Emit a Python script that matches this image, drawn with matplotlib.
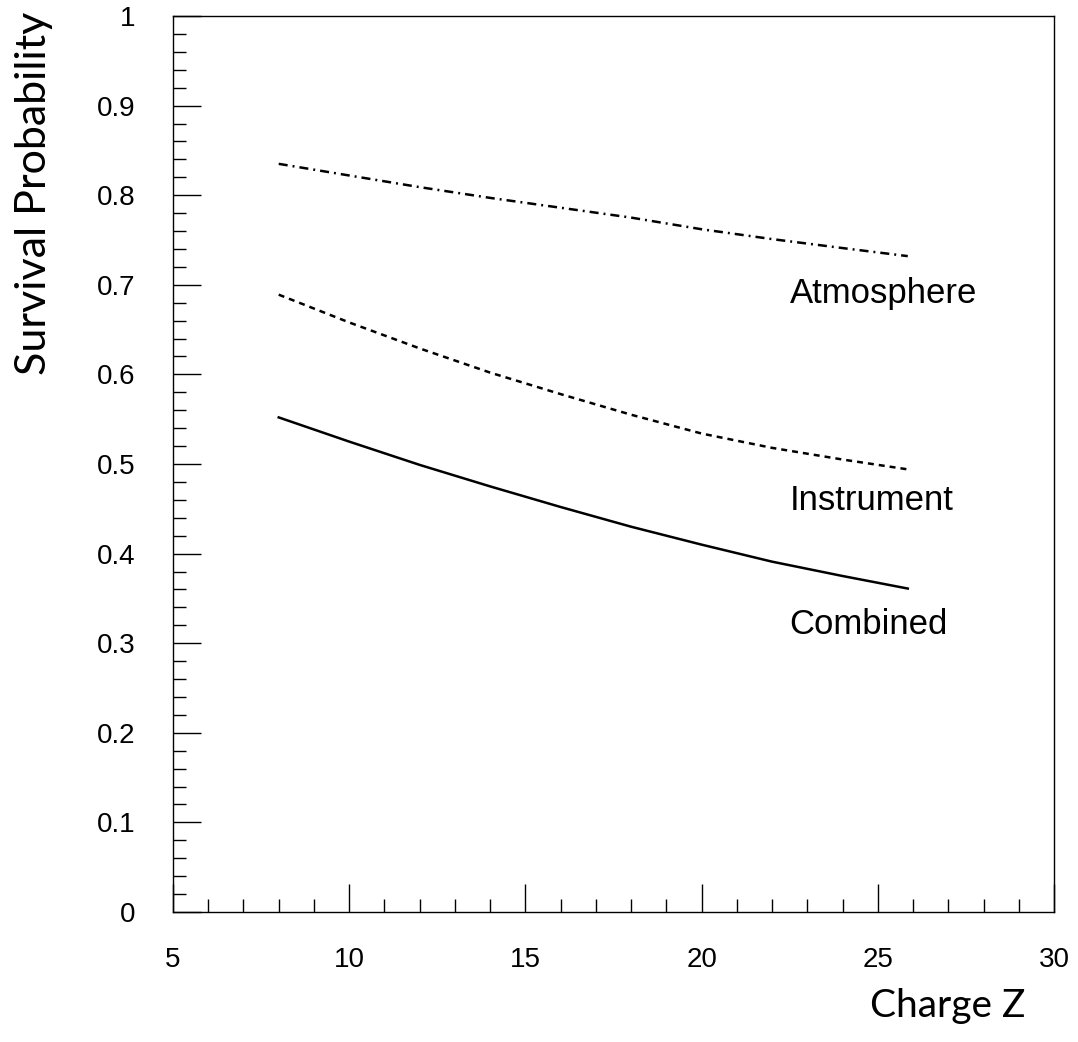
"""Survival probability vs charge Z for atmosphere, instrument and combined."""
import matplotlib
matplotlib.use("Agg")
import matplotlib.pyplot as plt
from matplotlib.ticker import MultipleLocator

# values
charge_z = [8, 10, 12, 14, 16, 18, 20, 22, 24, 25.85]
atmosphere = [0.835, 0.822, 0.809, 0.797, 0.786, 0.775, 0.762, 0.751, 0.741, 0.732]
instrument = [0.689, 0.658, 0.629, 0.602, 0.578, 0.555, 0.534, 0.518, 0.505, 0.494]
combined = [0.552, 0.525, 0.499, 0.475, 0.452, 0.430, 0.410, 0.391, 0.375, 0.361]

labels = ["Atmosphere", "Instrument", "Combined"]
label_x = 22.5
label_y = [0.680, 0.449, 0.310]

x_ticks = [5, 10, 15, 20, 25, 30]
y_ticks = [0, 0.1, 0.2, 0.3, 0.4, 0.5, 0.6, 0.7, 0.8, 0.9, 1]
y_ticklabels = ["0", "0.1", "0.2", "0.3", "0.4", "0.5", "0.6", "0.7", "0.8", "0.9", "1"]

plt.rcParams["lines.scale_dashes"] = False
plt.rcParams["font.family"] = ["Liberation Sans", "DejaVu Sans"]

fig = plt.figure(figsize=(10.78, 10.42), dpi=100)
ax = fig.add_axes([173 / 1078, 130 / 1042, 881 / 1078, 896 / 1042])

ax.plot(charge_z, atmosphere, color="black", lw=1.8, dashes=(6.5, 3.6, 1.4, 3.6))
ax.plot(charge_z, instrument, color="black", lw=1.8, dashes=(4.3, 3.6))
ax.plot(charge_z, combined, color="black", lw=1.8)

for txt, y in zip(labels, label_y):
    ax.text(label_x, y, txt, fontsize=25, ha="left", va="baseline")

ax.set_xlim(5, 30)
ax.set_ylim(0, 1)
ax.set_xticks(x_ticks)
ax.set_xticklabels([str(v) for v in x_ticks])
ax.set_yticks(y_ticks)
ax.set_yticklabels(y_ticklabels)
ax.xaxis.set_minor_locator(MultipleLocator(1))
ax.yaxis.set_minor_locator(MultipleLocator(0.02))

ax.tick_params(which="major", direction="in", length=20, width=1,
               top=False, right=False, labelsize=20)
ax.tick_params(which="minor", direction="in", length=9.5, width=1,
               top=False, right=False)
ax.tick_params(axis="x", which="major", pad=25)
ax.tick_params(axis="y", which="major", pad=27)
for sp in ax.spines.values():
    sp.set_linewidth(1)

ax.text(0.967, -0.085, "Charge Z", transform=ax.transAxes, fontsize=28,
        family="Lato", ha="right", va="top")
fig.text(34 / 1078, 1 - 12 / 1042, "Survival Probability", fontsize=31,
         family="Lato", rotation=90, ha="center", va="top")

fig.savefig("out.png", dpi=100)
